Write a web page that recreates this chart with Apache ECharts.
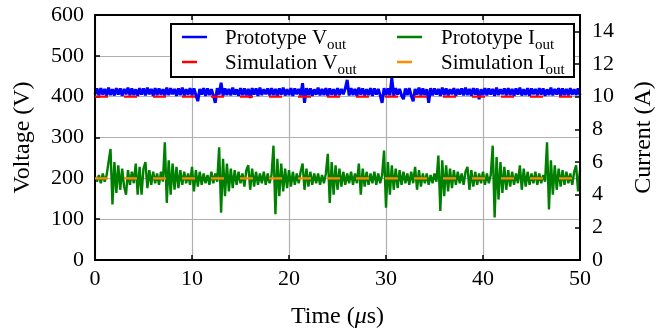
<!DOCTYPE html>
<html>
<head>
<meta charset="utf-8">
<script src="https://cdn.jsdelivr.net/npm/echarts@6/dist/echarts.min.js"></script>
<style>
html,body{margin:0;padding:0;background:#fff;}
#chart{width:668px;height:333px;}
</style>
</head>
<body>
<div id="chart"></div>
<script>
// time sampling (microseconds): sample i is at timeStart + i*timeStep
const timeStart = 0;
const timeStep = 0.2;

// Prototype output voltage (V), every 0.2 us
const protoVout = [
406,420,403,421,405,419,402,422,404,418,
403,421,405,420,402,419,406,422,403,420,
404,418,402,421,405,420,403,422,406,419,
402,421,404,420,405,418,403,422,404,421,
406,419,402,420,404,422,403,418,405,421,
403,420,404,389,419,405,421,402,420,404,
418,403,385,421,405,434,402,420,404,419,
403,422,405,418,402,421,404,420,403,419,
397,421,405,420,402,422,404,418,406,420,
403,421,404,419,402,420,405,422,403,418,
404,421,402,420,406,419,403,433,385,421,
404,420,402,418,405,422,403,419,404,421,
402,420,405,418,403,421,404,419,406,420,
441,403,421,404,419,402,422,405,420,403,
418,404,421,402,420,405,419,403,385,421,
404,420,403,446,402,421,405,419,403,394,
420,404,421,402,389,419,405,422,403,420,
404,418,385,421,403,420,405,419,402,422,
404,420,403,418,406,421,402,419,405,420,
403,422,404,419,402,421,405,420,394,418,
404,421,403,420,405,419,402,422,404,418,
406,420,403,421,404,419,402,420,405,422,
403,418,404,421,402,420,406,419,403,421,
405,420,402,418,404,422,403,419,405,421,
402,420,404,419,403,421,405,418,404,420,
403
];

// Prototype output current (A), every 0.2 us
const protoIout = [
5.1,4.8,5.2,4.7,5.3,4.8,5.2,6.0,6.8,3.4,
6.0,4.1,5.8,4.3,5.6,4.5,4.0,5.5,4.6,5.4,
4.7,5.9,4.0,5.7,4.0,5.6,6.0,4.4,5.5,4.6,
5.4,4.7,5.3,4.6,5.4,4.8,7.2,3.5,6.1,4.0,
5.9,4.3,5.7,4.4,5.5,4.6,5.4,4.7,5.3,4.6,
5.7,4.2,5.5,4.5,5.4,4.6,5.3,4.7,5.2,4.6,
5.4,4.7,5.3,4.8,6.9,2.9,6.2,3.9,5.9,4.2,
5.6,4.4,5.5,4.6,5.4,4.7,5.3,4.5,5.5,5.8,
4.3,5.6,4.5,5.4,4.6,5.3,4.7,5.4,4.6,5.3,
4.7,5.2,7.0,2.8,6.2,3.9,5.9,4.2,5.6,4.4,
5.5,4.5,5.4,4.6,5.3,4.7,5.4,5.9,4.3,5.6,
4.5,5.4,4.6,5.3,4.7,5.3,4.6,5.2,4.7,5.3,
6.5,3.5,6.0,4.0,5.8,4.3,5.6,4.5,5.4,4.6,
5.3,4.7,5.4,4.6,5.3,4.7,5.9,4.0,5.6,4.5,
5.4,4.6,5.3,4.7,5.4,4.6,5.3,4.7,5.2,6.7,
3.2,6.0,4.0,5.8,4.3,5.6,4.4,5.5,4.6,5.4,
4.7,5.3,4.6,5.4,4.7,5.7,4.3,5.5,4.5,5.3,
4.7,5.3,4.6,5.2,4.7,5.3,4.8,6.4,3.0,6.1,
3.9,5.8,4.2,5.6,4.4,5.5,4.6,5.4,4.7,5.3,
4.6,5.4,5.7,4.3,5.5,4.5,5.4,4.6,5.3,4.7,
5.4,4.6,5.3,4.7,5.2,7.0,2.6,6.3,3.7,6.0,
4.1,5.7,4.3,5.5,4.5,5.4,4.6,5.3,4.7,5.8,
4.3,5.6,4.5,5.4,4.6,5.3,4.7,5.4,4.6,5.3,
4.7,5.2,4.8,7.2,3.1,6.1,4.0,5.8,4.3,5.6,
4.5,5.5,4.6,5.4,4.7,5.3,4.6,5.4,5.8,4.2,
5.5
];

// Simulation results (flat): [start time, end time] and levels
const simTimes = [0, 50];
const simVout = [400, 400];
const simIout = [5, 5];

// Axis ticks
const xTicks = [0, 10, 20, 30, 40, 50];
const vTicks = [0, 100, 200, 300, 400, 500, 600];
const iTicks = [0, 2, 4, 6, 8, 10, 12, 14];

const pair = (vals) => vals.map((v, i) => [+(timeStart + i * timeStep).toFixed(3), v]);
const simPair = (vals) => vals.map((v, i) => [simTimes[i], v]);

const FONT = 'Liberation Serif';
const chart = echarts.init(document.getElementById('chart'), null, {renderer: 'canvas'});

function legendBox(name, left, top, iw, pad) {
  return {
    data: [{name: name, icon: 'rect'}],
    orient: 'vertical',
    left: left, top: top,
    itemWidth: iw, itemHeight: 2.5,
    padding: 0,
    z: 6,
    selectedMode: false,
    formatter: function (n) {
      const parts = n.split('|');
      return '{a|' + parts[0] + '}{s|' + parts[1] + '}';
    },
    textStyle: {
      fontFamily: FONT,
      rich: {
        a: {fontFamily: FONT, fontSize: 21, color: '#000', padding: [0, 0, 0, pad], lineHeight: 24, verticalAlign: 'bottom'},
        s: {fontFamily: FONT, fontSize: 15, color: '#000', lineHeight: 24, verticalAlign: 'bottom', padding: [0, 0, -4, 0]}
      }
    }
  };
}

const tickStyle = {show: true, inside: true, length: 5, lineStyle: {color: '#000', width: 1.5}};

const option = {
  animation: false,
  backgroundColor: '#fff',
  grid: {left: 95, right: 88, top: 15, bottom: 73, outerBoundsMode: 'none', containLabel: false,
    show: true, borderColor: '#000', borderWidth: 2, backgroundColor: 'transparent', z: 3},
  xAxis: [{
    type: 'value', min: xTicks[0], max: xTicks[xTicks.length - 1], interval: 10,
    axisLine: {show: false, onZero: false},
    axisTick: tickStyle,
    axisLabel: {fontFamily: FONT, fontSize: 22, color: '#000', margin: 8},
    splitLine: {show: true, lineStyle: {color: '#b0b0b0', width: 1.2}},
    name: '{n|Time (}{i|μ}{n|s)}',
    nameLocation: 'middle', nameGap: 45,
    nameTextStyle: {rich: {
      n: {fontFamily: FONT, fontSize: 24, color: '#000'},
      i: {fontFamily: FONT, fontSize: 24, color: '#000', fontStyle: 'italic'}
    }}
  }, {
    type: 'value', position: 'top', min: xTicks[0], max: xTicks[xTicks.length - 1], interval: 10,
    axisLine: {show: false, onZero: false},
    axisTick: tickStyle,
    axisLabel: {show: false}, splitLine: {show: false}
  }],
  yAxis: [{
    type: 'value', position: 'left', min: vTicks[0], max: vTicks[vTicks.length - 1], interval: 100,
    axisLine: {show: false, onZero: false},
    axisTick: tickStyle,
    axisLabel: {fontFamily: FONT, fontSize: 22, color: '#000', margin: 11},
    splitLine: {show: true, lineStyle: {color: '#b0b0b0', width: 1.2}},
    name: 'Voltage (V)', nameLocation: 'middle', nameGap: 60,
    nameTextStyle: {fontFamily: FONT, fontSize: 24, color: '#000'}
  }, {
    type: 'value', position: 'right', min: iTicks[0], max: 15, interval: 2,
    axisLine: {show: false, onZero: false},
    axisTick: tickStyle,
    axisLabel: {fontFamily: FONT, fontSize: 22, color: '#000', margin: 12, showMaxLabel: false,
      formatter: function (v) { return iTicks.indexOf(v) >= 0 ? String(v) : ''; }},
    splitLine: {show: false},
    name: 'Current (A)', nameLocation: 'middle', nameGap: 52, nameRotate: 90,
    nameTextStyle: {fontFamily: FONT, fontSize: 24, color: '#000'}
  }],
  legend: [
    legendBox('Prototype V|out', 182, 28, 25, 13),
    legendBox('Simulation V|out', 182, 53, 15, 23),
    legendBox('Prototype I|out', 397, 28, 25, 14),
    legendBox('Simulation I|out', 397, 53, 15, 24)
  ],
  graphic: [{
    type: 'rect', z: 5, left: 170, top: 23,
    shape: {width: 403, height: 53},
    style: {fill: '#fff', stroke: '#000', lineWidth: 2}
  }],
  series: [{
    name: 'Prototype V|out', type: 'line', xAxisIndex: 0, yAxisIndex: 0,
    data: pair(protoVout), showSymbol: false, symbol: 'none',
    lineStyle: {color: '#0000ff', width: 3}, itemStyle: {color: '#0000ff'}, z: 2
  }, {
    name: 'Simulation V|out', type: 'line', xAxisIndex: 0, yAxisIndex: 0,
    data: simPair(simVout), showSymbol: false, symbol: 'none',
    lineStyle: {color: '#ff0000', width: 2.2, type: [13, 16]}, itemStyle: {color: '#ff0000'}, z: 3
  }, {
    name: 'Prototype I|out', type: 'line', xAxisIndex: 0, yAxisIndex: 1,
    data: pair(protoIout), showSymbol: false, symbol: 'none',
    lineStyle: {color: '#008000', width: 2.4}, itemStyle: {color: '#008000'}, z: 2
  }, {
    name: 'Simulation I|out', type: 'line', xAxisIndex: 0, yAxisIndex: 1,
    data: simPair(simIout), showSymbol: false, symbol: 'none',
    lineStyle: {color: '#ff8c00', width: 2.2, type: [13, 16]}, itemStyle: {color: '#ff8c00'}, z: 3
  }]
};
chart.setOption(option);
</script>
</body>
</html>
